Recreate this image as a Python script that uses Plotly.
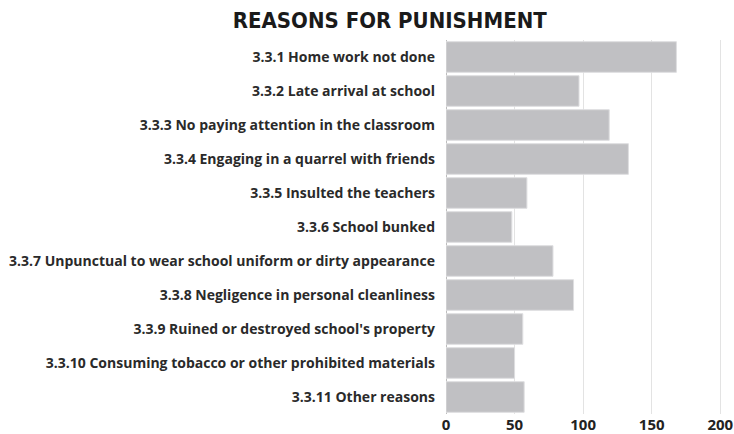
import plotly.graph_objects as go

# Reasons for punishment and number of responses
reasons = [
    "3.3.1 Home work not done",
    "3.3.2 Late arrival at school",
    "3.3.3 No paying attention in the classroom",
    "3.3.4 Engaging in a quarrel with friends",
    "3.3.5 Insulted the teachers",
    "3.3.6 School bunked",
    "3.3.7 Unpunctual to wear school uniform or dirty appearance",
    "3.3.8 Negligence in personal cleanliness",
    "3.3.9 Ruined or destroyed school's property",
    "3.3.10 Consuming tobacco or other prohibited materials",
    "3.3.11 Other reasons",
]
counts = [168, 97, 119, 133, 59, 48, 78, 93, 56, 50, 57]
x_ticks = [0, 50, 100, 150, 200]

fig = go.Figure(
    go.Bar(
        x=counts,
        y=reasons,
        orientation="h",
        marker=dict(color="#c0c0c3", line=dict(color="#dedee0", width=1)),
        width=0.9,
    )
)

fig.update_layout(
    width=734,
    height=434,
    margin=dict(l=446, r=0, t=40, b=20),
    paper_bgcolor="white",
    plot_bgcolor="white",
    title=dict(
        text="<b>REASONS FOR PUNISHMENT</b>",
        x=0.531,
        xanchor="center",
        y=0.953,
        yanchor="middle",
        font=dict(family="DejaVu Sans Condensed", size=22, color="#1a1a1a"),
    ),
    showlegend=False,
    bargap=0.1,
)

fig.update_xaxes(
    range=[0, 210],
    tickvals=x_ticks,
    ticktext=[f"<b>{v}</b>" for v in x_ticks],
    showgrid=True,
    gridcolor="#e3e3e3",
    gridwidth=1,
    zeroline=True,
    zerolinecolor="#bdbdbd",
    zerolinewidth=1,
    tickfont=dict(family="Open Sans", size=15, color="#222222"),
    automargin=False,
    ticks="",
)

fig.update_yaxes(
    categoryorder="array",
    categoryarray=reasons,
    autorange="reversed",
    tickvals=reasons,
    ticktext=[f"<b>{r}</b>" for r in reasons],
    tickfont=dict(family="Open Sans", size=14, color="#2a2a2a"),
    automargin=False,
    ticks="",
    ticklabelstandoff=10,
    showgrid=False,
)

fig.write_html("out.html")
